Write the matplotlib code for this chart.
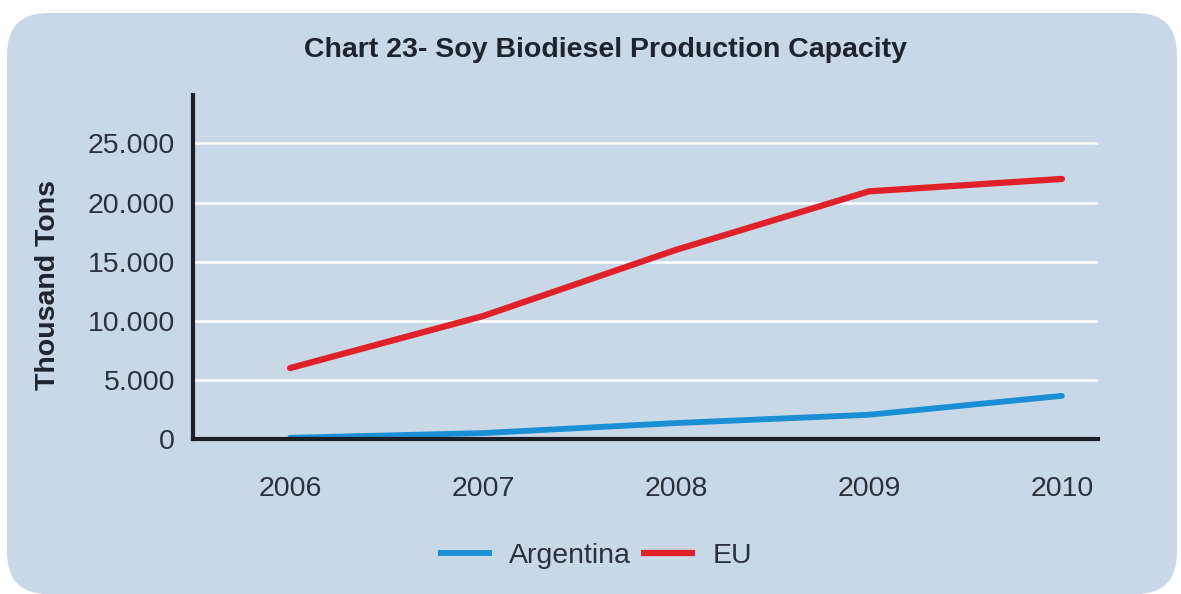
import matplotlib.pyplot as plt
from matplotlib.patches import FancyBboxPatch
from matplotlib.ticker import FuncFormatter

plt.rcParams['font.family'] = ['Liberation Sans', 'DejaVu Sans']

years = [2006, 2007, 2008, 2009, 2010]
argentina = [100, 500, 1350, 2050, 3650]
eu = [6000, 10400, 16000, 20950, 22000]
y_ticks = [0, 5000, 10000, 15000, 20000, 25000]

PANEL = "#c9d8e6"
TEXT = "#2b313b"

fig = plt.figure(figsize=(11.81, 5.94), dpi=100)
fig.patch.set_facecolor("white")

# rounded background panel, drawn behind the axes
panel = FancyBboxPatch((7 / 1181, 0.0), 1170 / 1181, 1 - 10 / 594 - 0.005,
                       boxstyle="round,pad=0,rounding_size=0.035",
                       transform=fig.transFigure, facecolor=PANEL,
                       edgecolor="none", mutation_aspect=1181 / 594, zorder=-10)
fig.patches.append(panel)

ax = fig.add_axes([193 / 1181, 1 - 439 / 594, (1098 - 193) / 1181, (439 - 95) / 594])
ax.set_facecolor(PANEL)

ax.plot(years, argentina, color="#1a8fd3", lw=4.2, solid_capstyle="round", label="Argentina", zorder=3)
ax.plot(years, eu, color="#e0212a", lw=4.5, solid_capstyle="round", label="EU", zorder=3)

ax.set_xlim(2005.497, 2010.187)
ax.set_ylim(0, 29100)
ax.set_xticks(years)
ax.set_yticks(y_ticks)
ax.yaxis.set_major_formatter(FuncFormatter(lambda v, p: f"{int(v):,}".replace(",", ".")))

ax.grid(axis="y", color="white", lw=1.8, zorder=1)
ax.set_axisbelow(True)

for s in ["top", "right"]:
    ax.spines[s].set_visible(False)
for s in ["left", "bottom"]:
    ax.spines[s].set_linewidth(3)
    ax.spines[s].set_color("#1c1f26")
    ax.spines[s].set_zorder(4)

ax.tick_params(axis="both", length=0, labelsize=20.5, labelcolor=TEXT)
ax.tick_params(axis="y", pad=13)
ax.tick_params(axis="x", pad=27)

fig.text(606 / 1181, 1 - 50 / 594, "Chart 23- Soy Biodiesel Production Capacity",
         ha="center", va="center", fontsize=20.5, fontweight="bold", color="#1e242e")
fig.text(48 / 1181, 1 - 285 / 594, "Thousand Tons", rotation=90,
         ha="center", va="center", fontsize=20.5, fontweight="bold", color="#1e242e")

leg = fig.legend(loc="center", bbox_to_anchor=(595 / 1181, 1 - 556 / 594), ncol=2,
                 frameon=False, fontsize=20.5, handlelength=1.9, handletextpad=0.6,
                 columnspacing=0.35, labelcolor=TEXT)
for h in leg.get_lines():
    h.set_solid_capstyle("butt")

fig.savefig("out.png", dpi=100, facecolor=fig.get_facecolor())
